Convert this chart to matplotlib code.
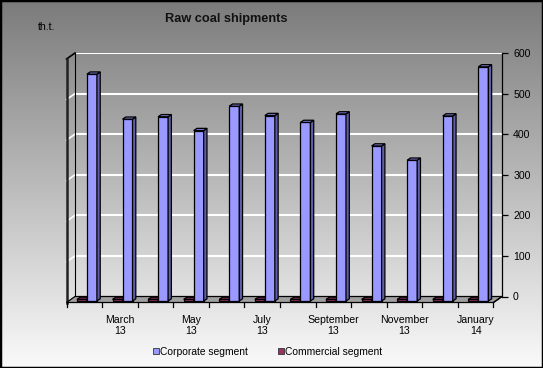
import numpy as np
import matplotlib.pyplot as plt
from matplotlib.patches import Polygon, Rectangle
from matplotlib.lines import Line2D

plt.rcParams['font.family'] = ['Liberation Sans', 'DejaVu Sans']

months = ['February\n13', 'March\n13', 'April\n13', 'May\n13', 'June\n13', 'July\n13',
          'August\n13', 'September\n13', 'October\n13', 'November\n13', 'December\n13', 'January\n14']
corporate = [559, 448, 454, 420, 480, 457, 440, 461, 382, 347, 456, 577]
commercial = [4, 4, 4, 4, 4, 4, 4, 4, 4, 4, 4, 4]
series_names = ['Corporate segment', 'Commercial segment']
y_ticks = [0, 100, 200, 300, 400, 500, 600]

W, H = 543, 368
fig = plt.figure(figsize=(W / 100, H / 100), dpi=100)

# background gradient over the whole figure
bg = fig.add_axes([0, 0, 1, 1], zorder=-10)
grad = np.linspace(0, 1, 256).reshape(-1, 1)
bg.imshow(grad, aspect='auto', cmap=plt.matplotlib.colors.LinearSegmentedColormap.from_list(
    'g', ['#7b7b7b', '#fafafa']), extent=[0, 1, 0, 1], origin='upper')
bg.axis('off')
fig.patches.append(Rectangle((0, 0), 1, 1, transform=fig.transFigure, fill=False,
                             edgecolor='black', lw=2.5))

# back wall of the 3d box
ax = fig.add_axes([75 / W, 1 - 296.5 / H, (502 - 75) / W, (296.5 - 53) / H])
ax.patch.set_visible(False)
n = len(months)
ax.set_xlim(0, n)
ax.set_ylim(0, 600)

px_x = n / (502 - 75)          # data units per pixel
px_y = 600 / (296.5 - 53)
dx, dy = -8.5 * px_x, -6 * px_y  # depth of the floor

for v in y_ticks[1:]:
    ax.plot([0, n], [v, v], color='white', lw=1.5, zorder=1)
    ax.plot([0, dx], [v, v + dy], color='black' if v == 600 else 'white', lw=1.2,
            clip_on=False, zorder=1)
ax.plot([0, 0], [0, 600], color='black', lw=0.8, clip_on=False, zorder=2)
ax.plot([dx, dx], [dy, 600 + dy], color='#222222', lw=1.8, clip_on=False, zorder=2)

# floor
ax.add_patch(Polygon([(0, 0), (n, 0), (n + dx, dy), (dx, dy)], closed=True,
                     facecolor='#a0a0a0', edgecolor='black', lw=0.9, clip_on=False, zorder=2))
for i in range(n + 1):
    ax.plot([i + dx, i + dx], [dy, dy - 4 * px_y], color='black', lw=0.9,
            clip_on=False, zorder=2)

# bars with fake depth
bw = 10 * px_x
bottom = -4.5 * px_y
bdx, bdy = 3.3 * px_x, 2.2 * px_y
series = [(commercial, 0.054, ('#993366', '#6a2246', '#7d2a55')),
          (corporate, 0.335, ('#9999ff', '#5f5fa8', '#7a7ad0'))]
for i in range(n):
    for vals, off, (cf, cs, ct) in series:
        x0 = i + off
        h = vals[i]
        ax.bar(x0, h, width=bw, bottom=bottom, align='edge', color=cf,
               edgecolor='black', lw=0.9, clip_on=False, zorder=4)
        top = bottom + h
        ax.add_patch(Polygon([(x0 + bw, bottom), (x0 + bw + bdx, bottom + bdy),
                              (x0 + bw + bdx, top + bdy), (x0 + bw, top)],
                             facecolor=cs, edgecolor='black', lw=0.9, clip_on=False, zorder=4))
        ax.add_patch(Polygon([(x0, top), (x0 + bw, top), (x0 + bw + bdx, top + bdy),
                              (x0 + bdx, top + bdy)],
                             facecolor=ct, edgecolor='black', lw=0.9, clip_on=False, zorder=4))

# axes and ticks
for s in ['top', 'left', 'bottom']:
    ax.spines[s].set_visible(False)
ax.spines['right'].set_linewidth(0.9)
ax.yaxis.tick_right()
ax.set_yticks(y_ticks)
ax.tick_params(axis='y', direction='out', length=4, width=0.9, pad=4, labelsize=7.6)
ax.plot([n, n + dx], [0, dy], color='black', lw=0.9, clip_on=False, zorder=3)

centers = [i + 0.5 + dx for i in range(n)]
labels = [m if i % 2 == 1 else '' for i, m in enumerate(months)]
ax.set_xticks(centers)
ax.set_xticklabels(labels, fontsize=7.6)
ax.tick_params(axis='x', length=0, pad=13)

fig.text(226.5 / W, 1 - 19 / H, 'Raw coal shipments', ha='center', va='center',
         fontsize=9.2, fontweight='bold', color='#111111')
fig.text(47 / W, 1 - 27.5 / H, 'th.t.', ha='center', va='center', fontsize=7.6)

handles = [Line2D([], [], marker='s', ls='none', markersize=4.5, markerfacecolor='#9999ff',
                  markeredgecolor='#333333', markeredgewidth=0.6),
           Line2D([], [], marker='s', ls='none', markersize=4.5, markerfacecolor='#993366',
                  markeredgecolor='#333333', markeredgewidth=0.6)]
fig.legend(handles, series_names, loc='center', bbox_to_anchor=(268 / W, 1 - 352 / H),
           ncol=2, frameon=False, fontsize=7.4, handlelength=0.5, handletextpad=0.15,
           columnspacing=3.0)

fig.savefig('out.png', dpi=100)
